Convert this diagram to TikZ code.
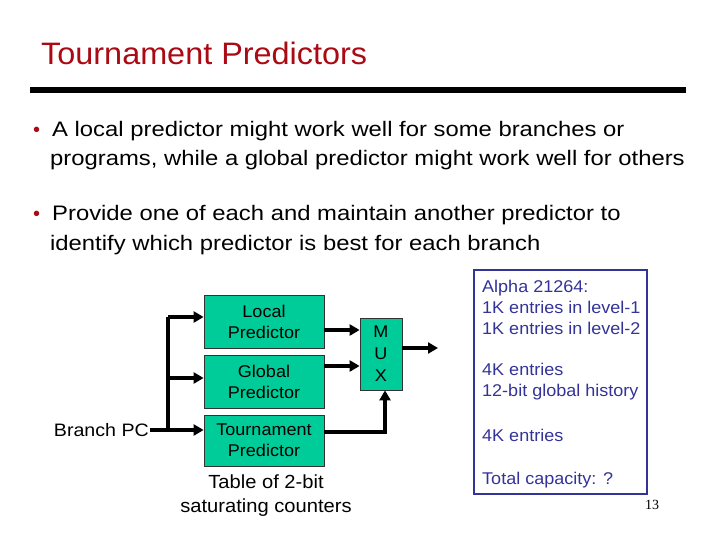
\documentclass[tikz,border=0pt]{standalone}
\usepackage{fontspec}
\setmainfont{Liberation Sans}
\newfontfamily\serifnum{Liberation Serif}
\newfontfamily\titlefont[FakeStretch=1.045]{Liberation Sans}
\newfontfamily\bodyfont[FakeStretch=1.135]{Liberation Sans}
\newfontfamily\diagfont[FakeStretch=1.06]{Liberation Sans}
\newfontfamily\pcfont[FakeStretch=1.09]{Liberation Sans}
\usetikzlibrary{arrows.meta}
\definecolor{titlered}{RGB}{170,10,20}
\definecolor{boxgreen}{RGB}{0,204,153}
\definecolor{navy}{RGB}{51,51,153}
\tikzset{
  pbox/.style={draw=black!80, line width=0.8pt, fill=boxgreen, minimum width=120pt, align=center, font=\diagfont\fontsize{17}{21}\selectfont, inner sep=0pt},
  thick line/.style={line width=4pt},
  arr/.style={line width=4pt, -{Triangle[length=10pt,width=11pt]}},
  bodytext/.style={anchor=base west, inner sep=0pt, font=\bodyfont\fontsize{21}{24}\selectfont},
  bullet/.style={anchor=base west, inner sep=0pt, text=titlered, font=\fontsize{20}{24}\selectfont},
  sidetext/.style={anchor=west, inner sep=0pt, text=navy, align=left, font=\diagfont\fontsize{17}{21}\selectfont},
}
\begin{document}
\begin{tikzpicture}[x=1pt,y=-1pt]
\useasboundingbox (0,0) rectangle (720,540);
% title
\node[anchor=base west, inner sep=0pt, text=titlered, font=\titlefont\fontsize{31}{36}\selectfont] (title) at (41,65) {Tournament Predictors};
\fill[black] (30,87) rectangle (686,93);
% bullets
\node[bullet] (b1) at (33,137) {•};
\node[bodytext] (t1a) at (52,137) {A local predictor might work well for some branches or};
\node[bodytext] (t1b) at (50,166) {programs, while a global predictor might work well for others};
\node[bullet] (b2) at (33,221) {•};
\node[bodytext] (t2a) at (52,221) {Provide one of each and maintain another predictor to};
\node[bodytext] (t2b) at (50,250) {identify which predictor is best for each branch};
% diagram
\node[pbox, minimum height=53pt] (local) at (264,321.5) {Local\\Predictor};
\node[pbox, minimum height=53pt] (global) at (264,381.5) {Global\\Predictor};
\node[pbox, minimum height=51pt] (tour) at (264,440.5) {Tournament\\Predictor};
\node[pbox, minimum width=42pt, minimum height=72pt, font=\diagfont\fontsize{17}{22}\selectfont] (mux) at (381,354) {M\\U\\X};
\node[anchor=east, inner sep=0pt, font=\pcfont\fontsize{18}{20}\selectfont] (bpc) at (149,430) {Branch PC};
\node[align=center, inner sep=0pt, font=\diagfont\fontsize{19}{24}\selectfont] (table) at (266,496) {Table of 2-bit\\saturating counters};
\coordinate (split) at (168,430);
\draw[arr] (bpc.east) ++(1pt,0) -- (bpc.east -| tour.west);
\draw[thick line] (split |- 0,430) -- (168,317);
\draw[arr] (168,317) -- ([yshift=4.5pt]local.west);
\draw[arr] (split |- 0,378) -- ([yshift=3.5pt]global.west);
\draw[arr] ([yshift=-8.5pt]local.east) -- ([yshift=-8.5pt]local.east -| mux.west);
\draw[arr] ([yshift=15.5pt]global.east) -- ([yshift=15.5pt]global.east -| mux.west);
\draw[arr] ([yshift=8.5pt]tour.east) -| ([xshift=4pt]mux.south);
\coordinate (muxout) at (438,348);
\draw[arr] ([yshift=6pt]mux.east) -- (muxout |- 0,348);
% side box
\draw[navy, line width=1.2pt] (474,270) rectangle (647,494);
\node[sidetext] (s1) at (482,307) {Alpha 21264:\\1K entries in level-1\\1K entries in level-2};
\node[sidetext] (s2) at (482,382) {4K entries\\12-bit global history};
\node[sidetext] (s3) at (482,435) {4K entries};
\node[sidetext] (s4) at (482,480) {Total capacity: ?};
\node[inner sep=0pt, font=\serifnum\fontsize{14}{16}\selectfont] (pg) at (652,505) {13};
\end{tikzpicture}
\end{document}
